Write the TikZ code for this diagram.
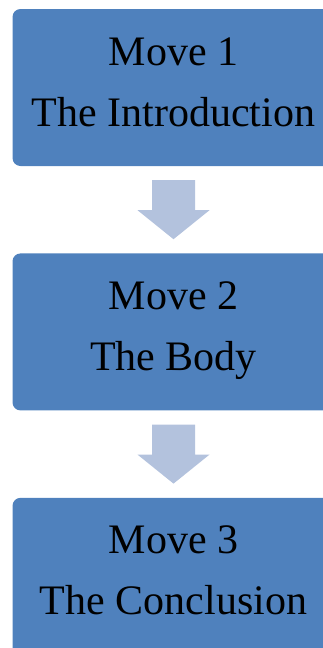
\documentclass[tikz,border=0pt]{standalone}
\usepackage{fontspec}
\setmainfont{Liberation Serif}
\usetikzlibrary{positioning,calc}
\definecolor{moveblue}{RGB}{79,129,189}
\definecolor{arrowblue}{RGB}{179,194,221}
\tikzstyle{move}=[rectangle, rounded corners=8pt, fill=moveblue, minimum width=322pt, minimum height=157pt, inner sep=0pt, align=center, font=\fontsize{42}{61}\selectfont, text height=90pt, text depth=13pt]
\tikzstyle{downarrow}=[fill=arrowblue]

\begin{document}
\begin{tikzpicture}[x=1pt, y=-1pt]
  \useasboundingbox (0,0) rectangle (323,648);
  \clip (0,0) rectangle (323,648);
% Moves
  \node[move] (move1) at (173.5,87.5) {Move 1\\The Introduction};
  \node[move, below=87pt of move1] (move2) {Move 2\\The Body};
  \node[move, below=87pt of move2] (move3) {Move 3\\The Conclusion};
% Arrows between moves
  \fill[downarrow] ($(move1.south)+(-21.5,14)$) -- ($(move1.south)+(21.5,14)$) -- ($(move1.south)+(21.5,44)$) -- ($(move1.south)+(36,44)$) -- ($(move2.north)+(0,-14)$) -- ($(move1.south)+(-36,44)$) -- ($(move1.south)+(-21.5,44)$) -- cycle;
  \fill[downarrow] ($(move2.south)+(-21.5,14)$) -- ($(move2.south)+(21.5,14)$) -- ($(move2.south)+(21.5,44)$) -- ($(move2.south)+(36,44)$) -- ($(move3.north)+(0,-14)$) -- ($(move2.south)+(-36,44)$) -- ($(move2.south)+(-21.5,44)$) -- cycle;
\end{tikzpicture}
\end{document}
